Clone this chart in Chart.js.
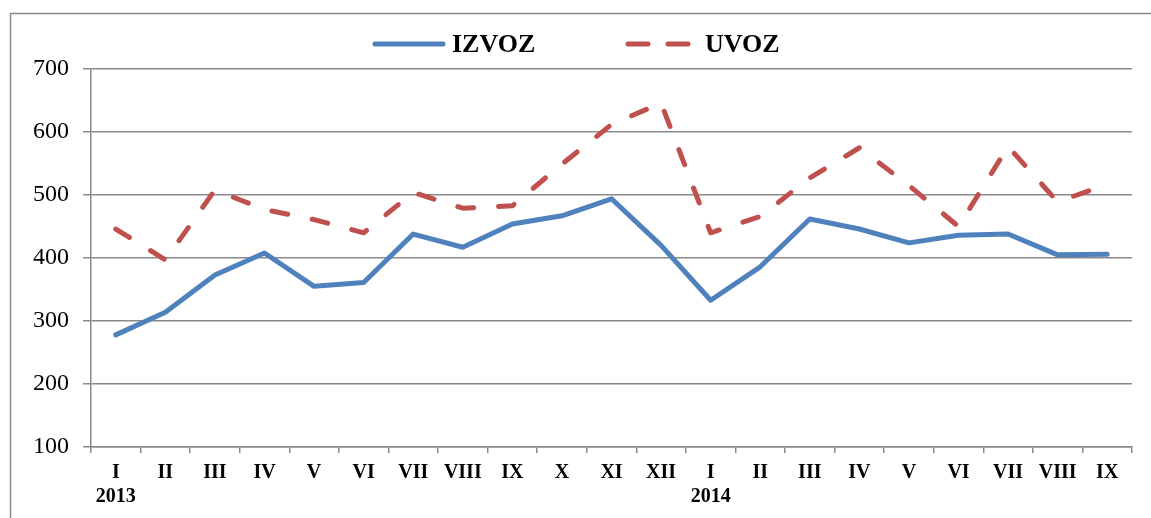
<!DOCTYPE html>
<html>
<head>
<meta charset="utf-8">
<script src="https://cdn.jsdelivr.net/npm/chart.js@4/dist/chart.umd.min.js"></script>
<style>
  html, body { margin: 0; padding: 0; background: #fff; }
  canvas { display: block; }
</style>
</head>
<body>
<canvas id="myChart" width="1151" height="518"></canvas>
<script>
let months = ['I', 'II', 'III', 'IV', 'V', 'VI', 'VII', 'VIII', 'IX', 'X', 'XI', 'XII',
              'I', 'II', 'III', 'IV', 'V', 'VI', 'VII', 'VIII', 'IX'];
let years = ['2013', '', '', '', '', '', '', '', '', '', '', '',
             '2014', '', '', '', '', '', '', '', ''];
let izvoz = [278, 314, 373, 408, 355, 361, 438, 417, 454, 467, 494, 420,
             333, 386, 462, 446, 424, 436, 438, 405, 406];
let uvoz = [446, 397, 508, 477, 461, 440, 504, 479, 483, 549, 612, 646,
            440, 466, 527, 575, 515, 450, 577, 489, 517];
let yTicks = [100, 200, 300, 400, 500, 600, 700];

let labels = months.map((m, i) => years[i] ? [m, years[i]] : m);
let gridColor = '#8a8a8a';
let serif = "'Liberation Serif', 'Times New Roman', serif";

// frame round the whole chart + legend drawn at the top
let frameAndLegend = {
  id: 'frameAndLegend',
  beforeDraw(chart) {
    let c = chart.ctx;
    c.save();
    c.strokeStyle = gridColor;
    c.lineWidth = 1.5;
    c.strokeRect(10.5, 13.5, 1160, 600);
    c.restore();
  },
  afterDraw(chart) {
    let c = chart.ctx;
    let items = [{x: 375, tx: 452}, {x: 628, tx: 705}];
    c.save();
    c.font = 'bold 26px ' + serif;
    c.textBaseline = 'middle';
    c.fillStyle = '#000';
    chart.data.datasets.forEach((ds, i) => {
      let it = items[i];
      c.strokeStyle = ds.borderColor;
      c.lineWidth = ds.borderWidth;
      c.lineCap = 'round';
      c.setLineDash(ds.borderDash ? [20, 20] : []);
      c.beginPath();
      c.moveTo(it.x, 44);
      c.lineTo(it.x + 68, 44);
      c.stroke();
      c.fillText(ds.label, it.tx, 45);
    });
    c.restore();
  }
};

let ctx = document.getElementById('myChart').getContext('2d');

let chart = new Chart(ctx, {
  type: 'line',
  data: {
    labels: labels,
    datasets: [{
      label: 'IZVOZ',
      data: izvoz,
      borderColor: '#4F81BD',
      borderWidth: 5,
      pointRadius: 0,
      tension: 0,
      borderJoinStyle: 'round',
      borderCapStyle: 'round'
    }, {
      label: 'UVOZ',
      data: uvoz,
      borderColor: '#C0504D',
      borderWidth: 5,
      borderDash: [16, 25],
      pointRadius: 0,
      tension: 0,
      borderJoinStyle: 'round',
      borderCapStyle: 'round'
    }]
  },
  options: {
    responsive: false,
    animation: false,
    devicePixelRatio: 1,
    layout: { padding: { left: 10, top: 69, right: 19, bottom: 0 } },
    plugins: {
      legend: { display: false },
      tooltip: { enabled: false }
    },
    scales: {
      x: {
        offset: true,
        afterFit(scale) { scale.height = 71; },
        grid: {
          offset: true,
          drawOnChartArea: false,
          drawTicks: true,
          tickLength: 6,
          color: gridColor,
          lineWidth: 1.5
        },
        border: { color: gridColor, width: 1.5 },
        ticks: {
          color: '#000',
          font: { family: serif, size: 20, weight: 'bold', lineHeight: 1.2 },
          padding: 8,
          maxRotation: 0,
          autoSkip: false
        }
      },
      y: {
        min: 100,
        max: 700,
        afterFit(scale) { scale.width = 81; },
        afterBuildTicks(scale) { scale.ticks = yTicks.map(v => ({ value: v })); },
        grid: {
          color: gridColor,
          lineWidth: 1.5,
          tickLength: 8
        },
        border: { color: gridColor, width: 1.5 },
        ticks: {
          color: '#000',
          font: { family: serif, size: 24 },
          padding: 14
        }
      }
    }
  },
  plugins: [frameAndLegend]
});
</script>
</body>
</html>
